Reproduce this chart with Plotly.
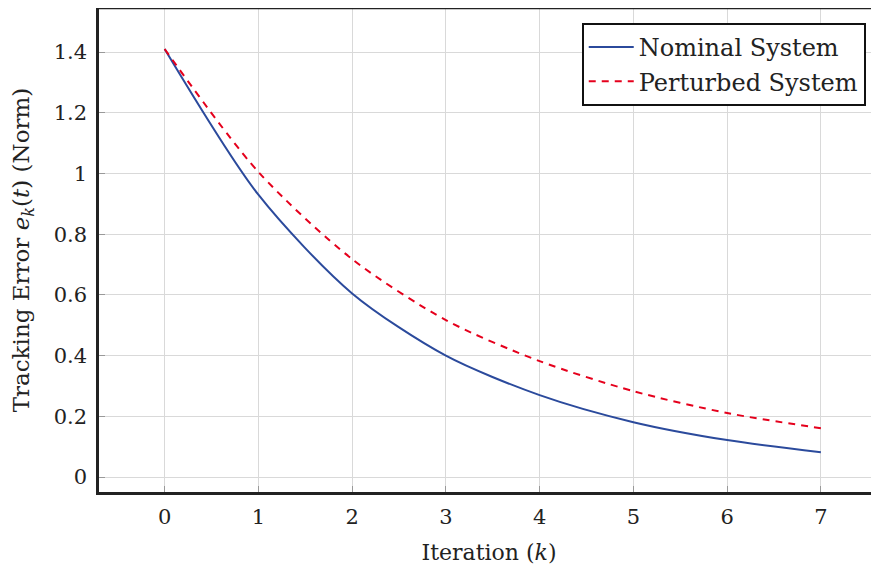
import plotly.graph_objects as go

iterations = [0, 1, 2, 3, 4, 5, 6, 7]
nominal = [1.41, 0.93, 0.605, 0.40, 0.27, 0.181, 0.122, 0.082]
perturbed = [1.41, 1.005, 0.718, 0.517, 0.382, 0.283, 0.211, 0.161]
y_ticks = [0, 0.2, 0.4, 0.6, 0.8, 1.0, 1.2, 1.4]
y_tick_labels = ["0", "0.2", "0.4", "0.6", "0.8", "1", "1.2", "1.4"]
x_ticks = [0, 1, 2, 3, 4, 5, 6, 7]

FONT = "DejaVu Serif"
TXT = "#222"

fig = go.Figure()
fig.add_trace(go.Scatter(
    x=iterations, y=nominal, mode="lines", name="Nominal System",
    line=dict(color="#2B4A9C", width=2, shape="spline", smoothing=0.8),
))
fig.add_trace(go.Scatter(
    x=iterations, y=perturbed, mode="lines", name="Perturbed System",
    line=dict(color="#E5001C", width=2, dash="7px,6px", shape="spline", smoothing=0.8),
))

fig.update_layout(
    width=871, height=562,
    margin=dict(l=91, r=0, t=0, b=78, autoexpand=False),
    paper_bgcolor="white", plot_bgcolor="white",
    font=dict(family=FONT, size=21, color=TXT),
    showlegend=True,
    legend=dict(
        x=0.983, y=0.969, xanchor="right", yanchor="top",
        bgcolor="white", bordercolor="#111", borderwidth=2,
        font=dict(family=FONT, size=24, color=TXT),
        tracegroupgap=0, itemwidth=45,
    ),
    xaxis=dict(
        range=[-0.70, 7.62], tickvals=x_ticks, automargin=False,
        showgrid=True, gridcolor="#d9d9d9", gridwidth=1,
        showline=True, linecolor="#222", linewidth=2.5, mirror=False,
        ticks="inside", ticklen=6, tickcolor="#999", tickwidth=1,
        ticklabelstandoff=4,
        zeroline=False,
        title=dict(text="Iteration (<i>k</i>)", font=dict(family=FONT, size=22, color=TXT), standoff=17),
        tickfont=dict(family=FONT, size=21, color=TXT),
    ),
    yaxis=dict(
        range=[-0.049, 1.545], tickvals=y_ticks, ticktext=y_tick_labels, automargin=False,
        showgrid=True, gridcolor="#d9d9d9", gridwidth=1,
        showline=True, linecolor="#222", linewidth=2.5, mirror=False,
        ticks="inside", ticklen=6, tickcolor="#999", tickwidth=1,
        ticklabelstandoff=5,
        zeroline=False,
        title=dict(text="Tracking Error <i>e</i><sub><i>k</i></sub>(<i>t</i>) (Norm)",
                   font=dict(family=FONT, size=23, color=TXT), standoff=18),
        tickfont=dict(family=FONT, size=21, color=TXT),
    ),
)

fig.add_shape(type="line", xref="paper", yref="paper", x0=0, x1=1, y0=1, y1=1,
              line=dict(color="#222", width=2.5))

fig.write_html("out.html")
